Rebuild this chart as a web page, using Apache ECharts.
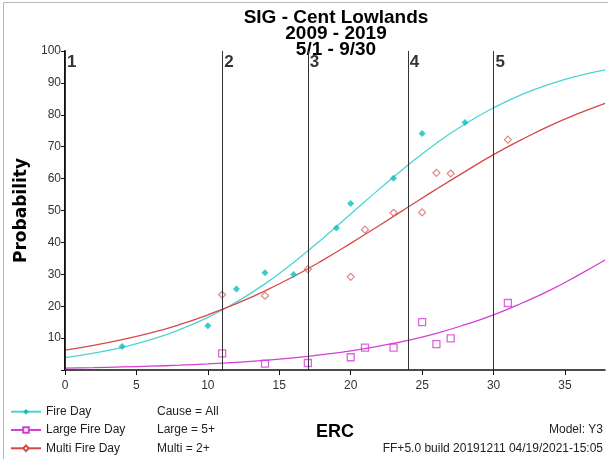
<!DOCTYPE html>
<html>
<head>
<meta charset="utf-8">
<script src="https://cdn.jsdelivr.net/npm/echarts@6/dist/echarts.min.js"></script>
<style>
  html, body { margin: 0; padding: 0; background: #fff; }
  #chart { width: 608px; height: 459px; }
</style>
</head>
<body>
<div id="chart"></div>
<script>
// Observed daily probabilities by ERC bin
const fireDayX = [4, 10, 12, 14, 16, 19, 20, 23, 25, 28];
const fireDayY = [7.4, 13.9, 25.4, 30.5, 29.9, 44.5, 52.2, 60.1, 74.1, 77.6];
const multiDayX = [11, 14, 17, 20, 21, 23, 25, 26, 27, 31];
const multiDayY = [23.6, 23.3, 31.6, 29.2, 44.0, 49.3, 49.4, 61.8, 61.6, 72.2];
const largeDayX = [11, 14, 17, 20, 21, 23, 25, 26, 27, 31];
const largeDayY = [5.2, 2.0, 2.2, 4.0, 7.0, 7.0, 15.0, 8.1, 9.9, 21.0];

// Fitted logistic curves, sampled along ERC
const curveX = [0, 2, 4, 6, 8, 10, 12, 14, 16, 18, 20, 22, 24, 26, 28, 30, 32, 34, 36, 37.8];
const fireCurve = [3.9, 5.3, 7.1, 9.5, 12.6, 16.5, 21.3, 27.0, 33.7, 41.1, 48.9, 56.7, 64.2, 71.1, 77.1, 82.2, 86.4, 89.7, 92.3, 94.1];
const largeCurve = [0.6, 0.75, 0.95, 1.2, 1.5, 1.9, 2.4, 3.0, 3.8, 4.8, 6.0, 7.5, 9.3, 11.5, 14.2, 17.3, 21.0, 25.1, 29.9, 34.5];
const multiCurve = [6.2, 7.7, 9.5, 11.6, 14.2, 17.3, 20.8, 24.8, 29.3, 34.3, 39.7, 45.3, 51.0, 56.7, 62.2, 67.5, 72.3, 76.7, 80.5, 83.6];

// Breakpoints between the ERC classes
const classBreaks = [0, 11, 17, 24, 30];
const classLabels = ['1', '2', '3', '4', '5'];

// Axis ranges and ticks
const xMin = 0, xMax = 37.8, xStep = 5;
const yMin = 0, yMax = 100, yStep = 10;

const FONT = '"Liberation Sans", Arial, sans-serif';
const CYAN = '#4cd4d2';
const CYAN_PT = '#12bcbc';
const MAGENTA = '#d43fd4';
const RED = '#d84848';
const RED_PT = '#d86868';

const zip = (xs, ys) => xs.map((x, i) => [x, ys[i]]);

const chart = echarts.init(document.getElementById('chart'), null, { renderer: 'canvas' });

chart.setOption({
  animation: false,
  backgroundColor: '#fff',
  textStyle: { fontFamily: FONT },
  grid: { left: 65, right: 3, top: 51, bottom: 89, containLabel: false },
  xAxis: {
    type: 'value', min: xMin, max: xMax, interval: xStep,
    name: 'ERC', nameLocation: 'middle', nameGap: 53,
    nameTextStyle: { fontFamily: FONT, fontWeight: 'bold', fontSize: 18, color: '#000' },
    axisLine: { lineStyle: { color: '#111', width: 1.5 } },
    axisTick: { show: true, length: 5, lineStyle: { color: '#111' } },
    axisLabel: { color: '#333', fontSize: 12, fontFamily: FONT, margin: 10, showMaxLabel: false },
    splitLine: { show: false }
  },
  yAxis: {
    type: 'value', min: yMin, max: yMax, interval: yStep,
    name: 'Probability', nameLocation: 'middle', nameGap: 33, nameRotate: 90,
    nameTextStyle: { fontFamily: '"DejaVu Sans", sans-serif', fontWeight: 'bold', fontSize: 17, color: '#000' },
    axisLine: { show: true, lineStyle: { color: '#111', width: 2 } },
    axisTick: { show: true, length: 4, lineStyle: { color: '#111' } },
    axisLabel: { color: '#333', fontSize: 12, fontFamily: FONT, margin: 4,
      formatter: v => (v === 0 ? '' : String(v)) },
    splitLine: { show: false }
  },
  legend: {
    orient: 'vertical', left: 10, top: 404.7, padding: 0, height: 60,
    itemWidth: 30, itemHeight: 7, itemGap: 4.3,
    data: ['Fire Day', 'Large Fire Day', 'Multi Fire Day'],
    textStyle: { fontFamily: FONT, fontSize: 12, color: '#222', lineHeight: 14 },
    selectedMode: false
  },
  graphic: [
    { type: 'rect', silent: true, shape: { x: 3.5, y: 2.5, width: 700, height: 600 },
      style: { fill: 'none', stroke: '#b8b8b8', lineWidth: 1 } },
    { type: 'text', silent: true, x: 336, y: 9.5,
      style: { text: 'SIG - Cent Lowlands\n2009 - 2019\n5/1 - 9/30', align: 'center',
        font: 'bold 19px ' + FONT, lineHeight: 16, fill: '#000' } },
    { type: 'text', silent: true, x: 157, y: 411.7,
      style: { text: 'Cause = All', verticalAlign: 'middle', font: '12px ' + FONT, fill: '#222' } },
    { type: 'text', silent: true, x: 157, y: 430,
      style: { text: 'Large = 5+', verticalAlign: 'middle', font: '12px ' + FONT, fill: '#222' } },
    { type: 'text', silent: true, x: 157, y: 448.3,
      style: { text: 'Multi = 2+', verticalAlign: 'middle', font: '12px ' + FONT, fill: '#222' } },
    { type: 'text', silent: true, x: 603, y: 430,
      style: { text: 'Model: Y3', align: 'right', verticalAlign: 'middle', font: '12px ' + FONT, fill: '#222' } },
    { type: 'text', silent: true, x: 603, y: 448.3,
      style: { text: 'FF+5.0 build 20191211 04/19/2021-15:05', align: 'right', verticalAlign: 'middle', font: '12px ' + FONT, fill: '#222' } }
  ],
  series: [
    {
      name: 'Fire Day', type: 'line', smooth: true, showSymbol: false,
      symbol: 'diamond', symbolSize: 6,
      itemStyle: { color: CYAN_PT },
      lineStyle: { color: CYAN, width: 1.3 },
      data: zip(curveX, fireCurve), z: 3,
      markLine: {
        silent: true, symbol: 'none', animation: false,
        label: { show: false },
        lineStyle: { color: '#333', width: 1, type: 'solid' },
        data: classBreaks.map(x => ({ xAxis: x }))
      }
    },
    {
      name: 'Large Fire Day', type: 'line', smooth: true, showSymbol: false,
      symbol: 'emptyRect', symbolSize: 6,
      itemStyle: { color: MAGENTA, borderWidth: 1.2 },
      lineStyle: { color: MAGENTA, width: 1.3 },
      data: zip(curveX, largeCurve), z: 3
    },
    {
      name: 'Multi Fire Day', type: 'line', smooth: true, showSymbol: false,
      symbol: 'emptyDiamond', symbolSize: 6,
      itemStyle: { color: RED, borderWidth: 1 },
      lineStyle: { color: RED, width: 1.3 },
      data: zip(curveX, multiCurve), z: 3
    },
    {
      name: 'Fire Day obs', type: 'scatter', symbol: 'diamond', symbolSize: 7,
      itemStyle: { color: CYAN_PT }, data: zip(fireDayX, fireDayY), z: 4
    },
    {
      name: 'Large Fire Day obs', type: 'scatter', symbol: 'rect', symbolSize: 7,
      itemStyle: { color: 'rgba(0,0,0,0)', borderColor: MAGENTA, borderWidth: 1.3 },
      data: zip(largeDayX, largeDayY), z: 4
    },
    {
      name: 'Multi Fire Day obs', type: 'scatter', symbol: 'diamond', symbolSize: 7,
      itemStyle: { color: 'rgba(0,0,0,0)', borderColor: RED_PT, borderWidth: 1.2 },
      data: zip(multiDayX, multiDayY), z: 4
    },
    {
      name: 'ERC class', type: 'scatter', symbolSize: 0, silent: true,
      data: classBreaks.map((x, i) => ({ value: [x, 96.5], name: classLabels[i] })),
      label: {
        show: true, position: 'right', distance: 2,
        formatter: p => p.name,
        fontFamily: FONT, fontWeight: 'bold', fontSize: 17, color: '#000'
      },
      z: 5
    }
  ]
});
</script>
</body>
</html>
